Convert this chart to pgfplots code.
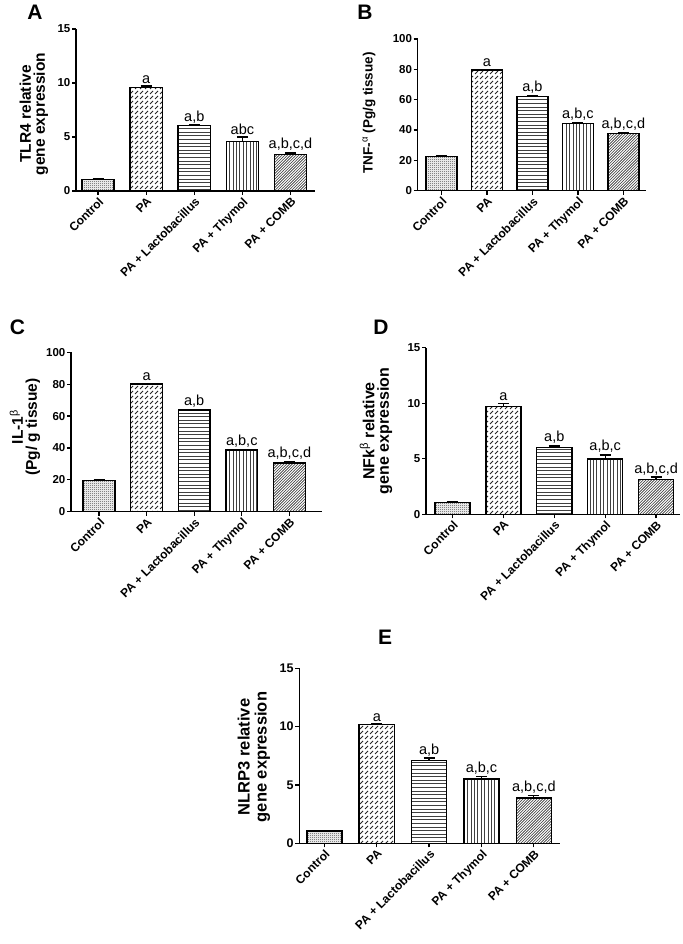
\documentclass[border=0pt]{standalone}
\usepackage{fontspec}
\setmainfont{Liberation Sans}
\usepackage{pgfplots}
\pgfplotsset{compat=1.18}
\usetikzlibrary{patterns}

% fill patterns of the five groups
\pgfdeclarepatternformonly{finecheck}{\pgfpointorigin}{\pgfqpoint{2pt}{2pt}}{\pgfqpoint{2pt}{2pt}}{%
  \pgfpathrectangle{\pgfpointorigin}{\pgfqpoint{1pt}{1pt}}%
  \pgfpathrectangle{\pgfqpoint{1pt}{1pt}}{\pgfqpoint{1pt}{1pt}}%
  \pgfusepath{fill}}
\pgfdeclarepatternformonly{dashne}{\pgfqpoint{-1pt}{-1pt}}{\pgfqpoint{6pt}{6pt}}{\pgfqpoint{5pt}{5pt}}{%
  \pgfsetlinewidth{0.8pt}%
  \pgfpathmoveto{\pgfqpoint{0pt}{0pt}}\pgfpathlineto{\pgfqpoint{3pt}{3pt}}\pgfusepath{stroke}}
\pgfdeclarepatternformonly{hlin}{\pgfqpoint{-1pt}{0pt}}{\pgfqpoint{11pt}{3.6pt}}{\pgfqpoint{10pt}{3.6pt}}{%
  \pgfsetlinewidth{0.6pt}%
  \pgfpathmoveto{\pgfqpoint{-1pt}{1.8pt}}\pgfpathlineto{\pgfqpoint{11pt}{1.8pt}}\pgfusepath{stroke}}
\pgfdeclarepatternformonly{vlin}{\pgfqpoint{0pt}{-1pt}}{\pgfqpoint{3.4pt}{11pt}}{\pgfqpoint{3.4pt}{10pt}}{%
  \pgfsetlinewidth{0.6pt}%
  \pgfpathmoveto{\pgfqpoint{1.7pt}{-1pt}}\pgfpathlineto{\pgfqpoint{1.7pt}{11pt}}\pgfusepath{stroke}}
\pgfdeclarepatternformonly{nedense}{\pgfqpoint{-1pt}{-1pt}}{\pgfqpoint{4pt}{4pt}}{\pgfqpoint{2.8pt}{2.8pt}}{%
  \pgfsetlinewidth{0.6pt}%
  \pgfpathmoveto{\pgfqpoint{0pt}{0pt}}\pgfpathlineto{\pgfqpoint{2.9pt}{2.9pt}}\pgfusepath{stroke}}

\pgfplotsset{
  panel/.style={
    scale only axis, anchor=south west,
    axis x line*=bottom, axis y line*=left,
    axis line style={line width=1.5pt,-},
    ymin=0, xtick={0,...,4},
    xticklabels={Control, PA, PA + Lactobacillus, PA + Thymol, PA + COMB},
    xticklabel style={rotate=45, anchor=north east, inner sep=1pt,
      font=\bfseries\fontsize{12}{13}\selectfont},
    yticklabel style={font=\bfseries\fontsize{11.5}{12}\selectfont, inner sep=1.5pt},
    /pgf/number format/assume math mode=true,
    tick align=outside, major tick length=4pt,
    tick style={line width=1.3pt, black},
    clip=false,
  },
  bar/.style={ybar, bar shift=0pt, draw=black, line width=1.5pt,
    error bars/y dir=plus, error bars/y explicit,
    error bars/error bar style={line width=1.3pt, black},
    error bars/error mark options={rotate=90, line width=1.3pt, mark size=5.5pt, black}},
  b0/.style={pattern=finecheck, pattern color=black!75},
  b1/.style={pattern=dashne, pattern color=black!85},
  b2/.style={pattern=hlin, pattern color=black!75},
  b3/.style={pattern=vlin, pattern color=black!75},
  b4/.style={pattern=nedense, pattern color=black!80},
  lab/.style={draw=none, nodes near coords, point meta=explicit symbolic,
    nodes near coords style={font=\fontsize{14.5}{15}\selectfont, anchor=south, inner sep=2pt, black}},
}

\begin{document}
\begin{tikzpicture}
\path[use as bounding box] (0pt,0pt) rectangle (682pt,944pt);

% ---------------- A: TLR4
\node[font=\bfseries\fontsize{21}{22}\selectfont] at (35pt,932pt) {A};
\node[rotate=90, align=center, font=\bfseries\fontsize{15.5}{14}\selectfont] at (34pt,830pt) {TLR4 relative\\gene expression};
\begin{axis}[panel, at={(76pt,753pt)}, width=239pt, height=162pt,
  xmin=-0.46, xmax=4.51, ymax=15, ytick={0,5,10,15}, bar width=0.67]
\addplot[bar, b0] coordinates {(0,1.05) +- (0,0.05)};
\addplot[bar, b1] coordinates {(1,9.6) +- (0,0.12)};
\addplot[bar, b2] coordinates {(2,6.05) +- (0,0.05)};
\addplot[bar, b3] coordinates {(3,4.6) +- (0,0.4)};
\addplot[bar, b4] coordinates {(4,3.4) +- (0,0.12)};
\addplot[lab] coordinates {(1,9.72) [a] (2,6.1) [a,b] (3,5.0) [abc] (4,3.52) [a,b,c,d]};
\end{axis}

% ---------------- B: TNF-alpha
\node[font=\bfseries\fontsize{21}{22}\selectfont] at (365pt,931.5pt) {B};
\node[rotate=90, font=\bfseries\fontsize{13.5}{14}\selectfont] at (369pt,831pt) {TNF-\textsuperscript{\mdseries α} (Pg/g tissue)};
\begin{axis}[panel, at={(417.7pt,753.3pt)}, width=228pt, height=151.7pt,
  xmin=-0.52, xmax=4.49, ymax=100, ytick={0,20,...,100}, bar width=0.68]
\addplot[bar, b0] coordinates {(0,22.5) +- (0,0.6)};
\addplot[bar, b1] coordinates {(1,79.5) +- (0,0.6)};
\addplot[bar, b2] coordinates {(2,62.2) +- (0,0.3)};
\addplot[bar, b3] coordinates {(3,44.4) +- (0,0.6)};
\addplot[bar, b4] coordinates {(4,37.6) +- (0,0.8)};
\addplot[lab] coordinates {(1,80.1) [a] (2,62.5) [a,b] (3,45.0) [a,b,c] (4,38.4) [a,b,c,d]};
\end{axis}

% ---------------- C: IL-1beta
\node[font=\bfseries\fontsize{21}{22}\selectfont] at (17.5pt,616.5pt) {C};
\node[rotate=90, align=center, font=\bfseries\fontsize{15.5}{14}\selectfont] at (25pt,517pt) {IL-1\textsuperscript{\mdseries β}\\(Pg/ g tissue)};
\begin{axis}[panel, at={(71pt,432.3pt)}, width=250.7pt, height=159.4pt,
  xmin=-0.59, xmax=4.68, ymax=100, ytick={0,20,...,100}, bar width=0.67]
\addplot[bar, b0] coordinates {(0,19.5) +- (0,0.3)};
\addplot[bar, b1] coordinates {(1,80.0) +- (0,0.6)};
\addplot[bar, b2] coordinates {(2,63.8) +- (0,0.4)};
\addplot[bar, b3] coordinates {(3,38.8) +- (0,0.4)};
\addplot[bar, b4] coordinates {(4,30.7) +- (0,0.5)};
\addplot[lab] coordinates {(1,80.6) [a] (2,64.2) [a,b] (3,39.2) [a,b,c] (4,31.2) [a,b,c,d]};
\end{axis}

% ---------------- D: NFk-beta
\node[font=\bfseries\fontsize{21}{22}\selectfont] at (381pt,617pt) {D};
\node[rotate=90, align=center, font=\bfseries\fontsize{16}{14.5}\selectfont] at (376pt,513pt) {NFk\textsuperscript{\mdseries β} relative\\gene expression};
\begin{axis}[panel, at={(426pt,429.7pt)}, width=254pt, height=166.6pt,
  xmin=-0.52, xmax=4.47, ymax=15, ytick={0,5,10,15}, bar width=0.69]
\addplot[bar, b0] coordinates {(0,1.08) +- (0,0.05)};
\addplot[bar, b1] coordinates {(1,9.7) +- (0,0.3)};
\addplot[bar, b2] coordinates {(2,6.0) +- (0,0.15)};
\addplot[bar, b3] coordinates {(3,5.0) +- (0,0.35)};
\addplot[bar, b4] coordinates {(4,3.15) +- (0,0.2)};
\addplot[lab] coordinates {(1,10.0) [a] (2,6.15) [a,b] (3,5.35) [a,b,c] (4,3.35) [a,b,c,d]};
\end{axis}

% ---------------- E: NLRP3
\node[font=\bfseries\fontsize{21}{22}\selectfont] at (385pt,307pt) {E};
\node[rotate=90, align=center, font=\bfseries\fontsize{16.5}{17}\selectfont] at (254pt,187pt) {NLRP3 relative\\gene expression};
\begin{axis}[panel, at={(299.3pt,100.7pt)}, width=260.7pt, height=175pt,
  xmin=-0.48, xmax=4.5, ymax=15, ytick={0,5,10,15}, bar width=0.67,
  yticklabel style={font=\bfseries\fontsize{12.5}{13}\selectfont}]
\addplot[bar, b0] coordinates {(0,1.05) +- (0,0.05)};
\addplot[bar, b1] coordinates {(1,10.2) +- (0,0.08)};
\addplot[bar, b2] coordinates {(2,7.1) +- (0,0.2)};
\addplot[bar, b3] coordinates {(3,5.5) +- (0,0.25)};
\addplot[bar, b4] coordinates {(4,3.9) +- (0,0.2)};
\addplot[lab] coordinates {(1,10.28) [a] (2,7.3) [a,b] (3,5.75) [a,b,c] (4,4.1) [a,b,c,d]};
\end{axis}
\end{tikzpicture}
\end{document}
